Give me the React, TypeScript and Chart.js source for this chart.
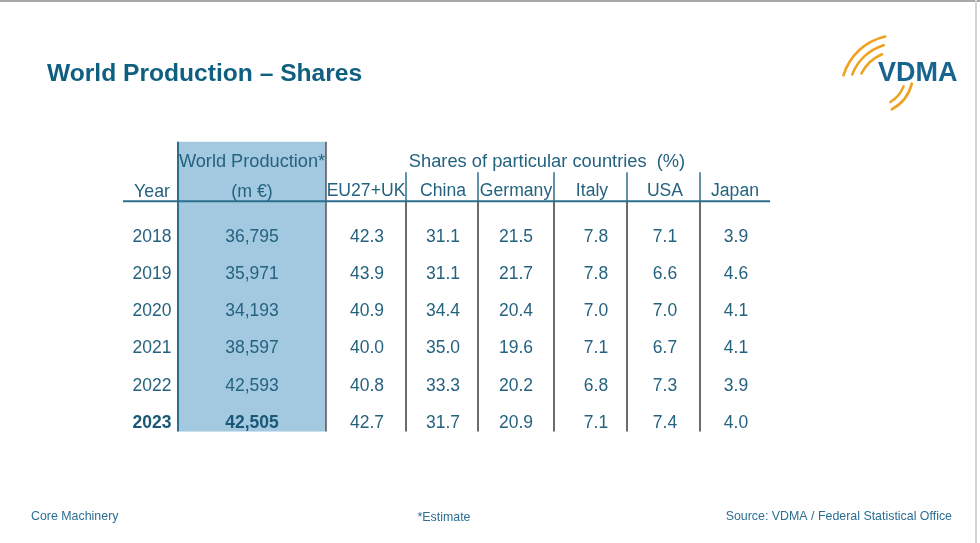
import React, { useEffect, useRef } from "react";
import { Chart, registerables } from "chart.js";

Chart.register(...registerables);

// ---------- data ----------
const YEARS = ["2018", "2019", "2020", "2021", "2022", "2023"];
const WORLD_PRODUCTION = [36795, 35971, 34193, 38597, 42593, 42505];
const EU27_UK = [42.3, 43.9, 40.9, 40.0, 40.8, 42.7];
const CHINA = [31.1, 31.1, 34.4, 35.0, 33.3, 31.7];
const GERMANY = [21.5, 21.7, 20.4, 19.6, 20.2, 20.9];
const ITALY = [7.8, 7.8, 7.0, 7.1, 6.8, 7.1];
const USA = [7.1, 6.6, 7.0, 6.7, 7.3, 7.4];
const JAPAN = [3.9, 4.6, 4.1, 4.1, 3.9, 4.0];
const COUNTRY_LABELS = ["EU27+UK", "China", "Germany", "Italy", "USA", "Japan"];

const TITLE = "World Production – Shares";
const WP_HEADER = "World Production*";
const WP_UNIT = "(m €)";
const SHARES_HEADER = "Shares of particular countries  (%)";
const YEAR_HEADER = "Year";
const FOOT_LEFT = "Core Machinery";
const FOOT_MID = "*Estimate";
const FOOT_RIGHT = "Source: VDMA / Federal Statistical Office";

// ---------- layout / style ----------
const FONT = '"Liberation Sans", Arial, Helvetica, sans-serif';
const TEXT = "#24627f";
const TITLE_COLOR = "#0f5f80";
const BLUE = "#a3c9e0";
const TEAL_LINE = "#2e6e8d";
const DARK_LINE = "#3a3a3a";
const W = 980;
const H = 543;
const ROW0_PX = 235.5;
const ROW_PITCH = 37.2;
// column centers (x scale is in layout units of the slide)
const COL_X = [152, 252, 367, 443, 516, 596, 665, 736];
const HEAD_X = [152, 252, 366, 443, 516, 592, 665, 735];
const SEPARATORS = [406, 478, 554, 627, 700];
const BLUE_LEFT = 178;
const BLUE_RIGHT = 326;
const HEADER_ROW_1 = -2.03;
const HEADER_ROW_2 = -1.22;
const HEADER_LINE = -0.92;
const SEP_TOP = -1.7;
const TABLE_BOTTOM = 5.27;
const BLUE_TOP = -2.52;

const fmtInt = (v: number) => v.toLocaleString("en-US");
const fmt1 = (v: number) => v.toFixed(1);

const COLUMNS: { labels: string[] }[] = [
  { labels: YEARS },
  { labels: WORLD_PRODUCTION.map(fmtInt) },
  { labels: EU27_UK.map(fmt1) },
  { labels: CHINA.map(fmt1) },
  { labels: GERMANY.map(fmt1) },
  { labels: ITALY.map(fmt1) },
  { labels: USA.map(fmt1) },
  { labels: JAPAN.map(fmt1) },
];

function drawText(
  ctx: CanvasRenderingContext2D,
  text: string,
  x: number,
  yCenter: number,
  size: number,
  color: string,
  align: CanvasTextAlign = "center",
  bold = false
) {
  ctx.save();
  ctx.font = `${bold ? "bold " : ""}${size}px ${FONT}`;
  ctx.fillStyle = color;
  ctx.textAlign = align;
  ctx.textBaseline = "alphabetic";
  ctx.fillText(text, x, yCenter + size * 0.36);
  ctx.restore();
}

const tablePlugin = {
  id: "tablePlugin",
  beforeDatasetsDraw(chart: any) {
    const ctx: CanvasRenderingContext2D = chart.ctx;
    const xs = chart.scales.x;
    const ys = chart.scales.y;
    const px = (v: number) => xs.getPixelForValue(v);
    const py = (v: number) => ys.getPixelForValue(v);

    ctx.save();
    // slide frame
    ctx.fillStyle = "#ffffff";
    ctx.fillRect(0, 0, W, H);
    ctx.fillStyle = "#a8a8a8";
    ctx.fillRect(0, 0, W, 2);
    ctx.fillStyle = "#d4d4d4";
    ctx.fillRect(975, 0, 2, H);

    // highlighted column
    ctx.fillStyle = BLUE;
    ctx.fillRect(px(BLUE_LEFT), py(BLUE_TOP), px(BLUE_RIGHT) - px(BLUE_LEFT), py(TABLE_BOTTOM) - py(BLUE_TOP));
    ctx.lineWidth = 2;
    ctx.strokeStyle = TEAL_LINE;
    ctx.beginPath();
    ctx.moveTo(px(BLUE_LEFT), py(BLUE_TOP));
    ctx.lineTo(px(BLUE_LEFT), py(TABLE_BOTTOM));
    ctx.stroke();
    ctx.strokeStyle = "#555555";
    ctx.lineWidth = 1.5;
    ctx.beginPath();
    ctx.moveTo(px(BLUE_RIGHT), py(BLUE_TOP));
    ctx.lineTo(px(BLUE_RIGHT), py(TABLE_BOTTOM));
    ctx.stroke();

    // separators
    SEPARATORS.forEach((s) => {
      ctx.lineWidth = 1.5;
      ctx.strokeStyle = TEAL_LINE;
      ctx.beginPath();
      ctx.moveTo(px(s), py(SEP_TOP));
      ctx.lineTo(px(s), py(HEADER_LINE));
      ctx.stroke();
      ctx.strokeStyle = DARK_LINE;
      ctx.beginPath();
      ctx.moveTo(px(s), py(HEADER_LINE));
      ctx.lineTo(px(s), py(TABLE_BOTTOM));
      ctx.stroke();
    });

    // header rule
    ctx.strokeStyle = TEAL_LINE;
    ctx.lineWidth = 2;
    ctx.beginPath();
    ctx.moveTo(px(123), py(HEADER_LINE));
    ctx.lineTo(px(770), py(HEADER_LINE));
    ctx.stroke();
    ctx.restore();

    // title
    drawText(ctx, TITLE, px(47), 72, 24.6, TITLE_COLOR, "left", true);

    // logo
    ctx.save();
    ctx.strokeStyle = "#eea21f";
    ctx.lineCap = "round";
    ctx.lineWidth = 2.6;
    const arcs: [number, number, number, number, number][] = [
      [898, 92, 57, 197, 257],
      [898, 92, 49, 201, 253],
      [898, 92, 41, 207, 247],
      [873, 74, 40, 14, 62],
      [873, 74, 33, 22, 58],
    ];
    arcs.forEach(([cx, cy, r, a0, a1]) => {
      ctx.beginPath();
      ctx.arc(cx, cy, r, (a0 * Math.PI) / 180, (a1 * Math.PI) / 180);
      ctx.stroke();
    });
    ctx.restore();
    drawText(ctx, "VDMA", 878, 71.5, 27, "#17658f", "left", true);

    // headers
    drawText(ctx, WP_HEADER, px(HEAD_X[1]), py(HEADER_ROW_1), 18.2, TEXT);
    drawText(ctx, SHARES_HEADER, px(547), py(HEADER_ROW_1), 18.3, TEXT);
    drawText(ctx, YEAR_HEADER, px(HEAD_X[0]), py(HEADER_ROW_2), 17.8, TEXT);
    drawText(ctx, WP_UNIT, px(HEAD_X[1]), py(HEADER_ROW_2), 17.8, TEXT);
    COUNTRY_LABELS.forEach((c, i) => {
      drawText(ctx, c, px(HEAD_X[i + 2]), py(HEADER_ROW_2), 17.6, TEXT);
    });

    // footer
    drawText(ctx, FOOT_LEFT, px(31), 516, 12.4, "#2b6f94", "left");
    drawText(ctx, FOOT_MID, px(444), 517, 12.4, "#2b6f94", "center");
    drawText(ctx, FOOT_RIGHT, px(952), 516, 12.4, "#2b6f94", "right");
  },
  afterDatasetsDraw(chart: any) {
    const ctx: CanvasRenderingContext2D = chart.ctx;
    chart.data.datasets.forEach((ds: any, di: number) => {
      const meta = chart.getDatasetMeta(di);
      meta.data.forEach((el: any, i: number) => {
        const last = i === YEARS.length - 1;
        const bold = last && di <= 1;
        drawText(ctx, ds.cellLabels[i], el.x, el.y, 17.5, bold ? "#1a5876" : TEXT, "center", bold);
      });
    });
  },
};

export default function App() {
  const ref = useRef<HTMLCanvasElement | null>(null);
  useEffect(() => {
    if (!ref.current) return;
    const chart = new Chart(ref.current, {
      type: "scatter",
      data: {
        datasets: COLUMNS.map((col, ci) => ({
          label: `col${ci}`,
          cellLabels: col.labels,
          data: col.labels.map((_, ri) => ({ x: COL_X[ci], y: ri })),
          pointRadius: 0,
          pointHoverRadius: 0,
        })) as any,
      },
      options: {
        responsive: false,
        animation: false,
        devicePixelRatio: 1,
        events: [],
        layout: { padding: 0 },
        plugins: { legend: { display: false }, tooltip: { enabled: false } },
        scales: {
          x: { type: "linear", display: false, min: 0, max: W },
          y: {
            type: "linear",
            display: false,
            reverse: true,
            min: -ROW0_PX / ROW_PITCH,
            max: (H - ROW0_PX) / ROW_PITCH,
          },
        },
      },
      plugins: [tablePlugin],
    });
    return () => chart.destroy();
  }, []);
  return (
    <div style={{ position: "fixed", left: 0, top: 0, width: W, height: H, background: "#fff" }}>
      <canvas ref={ref} width={W} height={H} style={{ display: "block", width: W, height: H }} />
    </div>
  );
}
